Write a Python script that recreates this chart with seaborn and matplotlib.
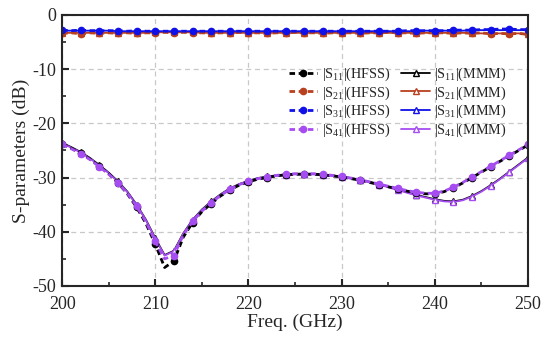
import numpy as np
import pandas as pd
import seaborn as sns
import matplotlib
matplotlib.use('Agg')
from matplotlib import pyplot as plt

freq = list(range(200, 251))

s11_hfss = [-23.8, -24.6, -25.5, -26.6, -27.9, -29.3, -31.0, -33.0, -35.5, -38.5,
            -42.3, -46.6, -45.4, -41.0, -38.3, -36.3, -34.8, -33.4, -32.3, -31.4,
            -30.8, -30.3, -30.0, -29.7, -29.5, -29.4, -29.4, -29.4, -29.5, -29.7,
            -29.9, -30.2, -30.5, -30.9, -31.3, -31.7, -32.1, -32.5, -32.8, -33.0,
            -33.0, -32.6, -31.9, -31.0, -30.0, -29.0, -28.0, -27.0, -26.0, -25.0, -24.0]
s41_hfss = [-23.9, -24.7, -25.6, -26.7, -28.0, -29.4, -31.0, -32.9, -35.3, -38.2,
            -41.8, -45.0, -44.4, -40.6, -38.1, -36.2, -34.7, -33.3, -32.2, -31.3,
            -30.7, -30.2, -29.9, -29.6, -29.4, -29.3, -29.3, -29.3, -29.4, -29.6,
            -29.8, -30.1, -30.4, -30.8, -31.2, -31.6, -32.0, -32.4, -32.7, -32.9,
            -32.9, -32.5, -31.8, -30.9, -29.9, -28.9, -27.9, -26.9, -25.9, -24.9, -23.9]
s11_mmm = [-23.6, -24.4, -25.3, -26.4, -27.7, -29.1, -30.7, -32.6, -35.0, -37.8,
           -41.2, -44.3, -43.5, -40.3, -37.8, -35.9, -34.4, -33.1, -32.0, -31.2,
           -30.6, -30.1, -29.8, -29.6, -29.4, -29.3, -29.3, -29.3, -29.4, -29.6,
           -29.8, -30.1, -30.4, -30.8, -31.2, -31.7, -32.2, -32.7, -33.2, -33.6,
           -34.0, -34.3, -34.4, -34.1, -33.4, -32.5, -31.4, -30.2, -28.9, -27.6, -26.3]
s41_mmm = [-23.7, -24.5, -25.4, -26.5, -27.8, -29.2, -30.8, -32.7, -35.1, -37.9,
           -41.3, -44.4, -43.6, -40.4, -37.9, -36.0, -34.5, -33.2, -32.1, -31.3,
           -30.7, -30.2, -29.9, -29.7, -29.5, -29.4, -29.4, -29.4, -29.5, -29.7,
           -29.9, -30.2, -30.5, -30.9, -31.3, -31.8, -32.3, -32.8, -33.3, -33.7,
           -34.1, -34.4, -34.5, -34.2, -33.5, -32.6, -31.5, -30.3, -29.0, -27.7, -26.4]
s21_hfss = [-3.4, -3.3, -3.5, -3.3, -3.4, -3.3, -3.4, -3.3, -3.4, -3.3,
            -3.3, -3.2, -3.3, -3.2, -3.3, -3.3, -3.4, -3.3, -3.3, -3.2,
            -3.3, -3.3, -3.4, -3.3, -3.3, -3.2, -3.3, -3.3, -3.4, -3.3,
            -3.3, -3.3, -3.4, -3.3, -3.3, -3.2, -3.3, -3.3, -3.4, -3.3,
            -3.3, -3.3, -3.4, -3.3, -3.4, -3.3, -3.5, -3.4, -3.5, -3.4, -3.6]
s21_mmm = [-3.3, -3.3, -3.3, -3.3, -3.3, -3.3, -3.3, -3.3, -3.3, -3.3,
           -3.2, -3.2, -3.2, -3.2, -3.2, -3.3, -3.3, -3.3, -3.3, -3.3,
           -3.3, -3.3, -3.3, -3.3, -3.3, -3.3, -3.3, -3.3, -3.3, -3.3,
           -3.3, -3.3, -3.3, -3.3, -3.3, -3.3, -3.3, -3.3, -3.3, -3.3,
           -3.3, -3.3, -3.3, -3.3, -3.3, -3.4, -3.4, -3.4, -3.4, -3.4, -3.5]
s31_hfss = [-2.8, -2.9, -2.8, -2.9, -2.9, -2.9, -2.9, -3.0, -2.9, -3.0,
            -3.0, -3.0, -3.0, -3.0, -3.0, -3.0, -3.0, -3.0, -3.0, -3.0,
            -3.0, -3.0, -3.0, -3.0, -3.0, -3.0, -3.0, -3.0, -3.0, -3.0,
            -3.0, -3.0, -3.0, -3.0, -3.0, -3.0, -3.0, -2.9, -2.9, -2.9,
            -2.9, -2.9, -2.8, -2.8, -2.8, -2.7, -2.7, -2.6, -2.6, -2.7, -2.7]
s31_mmm = [-2.9, -2.9, -2.9, -2.9, -2.9, -2.9, -3.0, -3.0, -3.0, -3.0,
           -3.0, -3.0, -3.0, -3.0, -3.0, -3.0, -3.0, -3.0, -3.0, -3.0,
           -3.0, -3.0, -3.0, -3.0, -3.0, -3.0, -3.0, -3.0, -3.0, -3.0,
           -3.0, -3.0, -3.0, -3.0, -3.0, -3.0, -3.0, -3.0, -3.0, -2.9,
           -2.9, -2.9, -2.9, -2.9, -2.8, -2.8, -2.8, -2.8, -2.8, -2.8, -2.8]

names = ['11', '21', '31', '41']
colors = ['black', '#B8401E', '#1010E8', '#A64DF2']
hfss = [s11_hfss, s21_hfss, s31_hfss, s41_hfss]
mmm = [s11_mmm, s21_mmm, s31_mmm, s41_mmm]

sns.set_theme(style='ticks')
plt.rcParams['font.family'] = ['Liberation Serif', 'DejaVu Serif']
plt.rcParams['mathtext.fontset'] = 'custom'
plt.rcParams['mathtext.rm'] = 'Liberation Serif'
plt.rcParams['axes.unicode_minus'] = False

fig = plt.figure(figsize=(5.5, 3.4), dpi=100)
ax = fig.add_axes([0.113, 0.159, 0.847, 0.797])

handles = {}
# MMM first, HFSS drawn over it
for n, c, yh, ym in zip(names, colors, hfss, mmm):
    sns.lineplot(x=freq, y=ym, ax=ax, color=c, lw=1.3, marker='^', markersize=4,
                 markerfacecolor='white', markeredgecolor=c, markeredgewidth=1.0,
                 markevery=2, label=f'|S$_{{\\mathregular{{{n}}}}}$|(MMM)', legend=False)
    handles['m' + n] = ax.lines[-1]
for n, c, yh, ym in zip(names, colors, hfss, mmm):
    sns.lineplot(x=freq, y=yh, ax=ax, color=c, lw=2.0, linestyle=(0, (2, 1.3)), marker='o',
                 markersize=4.5, markerfacecolor=c, markeredgecolor=c, markeredgewidth=1.0,
                 markevery=2, label=f'|S$_{{\\mathregular{{{n}}}}}$|(HFSS)', legend=False)
    handles['h' + n] = ax.lines[-1]

ax.set_xlim(200, 250)
ax.set_ylim(-50, 0)
ax.set_xticks(range(200, 251, 10))
ax.set_yticks(range(-50, 1, 10))
ax.set_xticks(range(205, 250, 10), minor=True)
ax.set_yticks(range(-45, 0, 10), minor=True)
ax.tick_params(direction='in', which='major', length=5, width=1.5, labelsize=13,
               top=False, right=False)
ax.tick_params(axis='x', which='major', pad=7)
ax.tick_params(axis='y', which='major', pad=4)
ax.tick_params(direction='in', which='minor', length=3, width=1.2, top=False, right=False)
ax.grid(True, which='major', linestyle=(0, (4, 3)), color='#C8C8C8', lw=0.9)
for s in ax.spines.values():
    s.set_linewidth(1.5)
ax.set_xlabel('Freq. (GHz)', fontsize=14, labelpad=1)
ax.set_ylabel('S-parameters (dB)', fontsize=14, labelpad=2)

order = ['h11', 'h21', 'h31', 'h41', 'm11', 'm21', 'm31', 'm41']
hl = [handles[k] for k in order]
ax.legend(hl, [h.get_label() for h in hl], ncol=2, loc='upper right',
          bbox_to_anchor=(0.975, 0.85), frameon=False, fontsize=10.2,
          handlelength=2.0, handletextpad=0.3, columnspacing=0.8,
          labelspacing=0.1, borderpad=0.2)

fig.savefig('out.png', dpi=100)
